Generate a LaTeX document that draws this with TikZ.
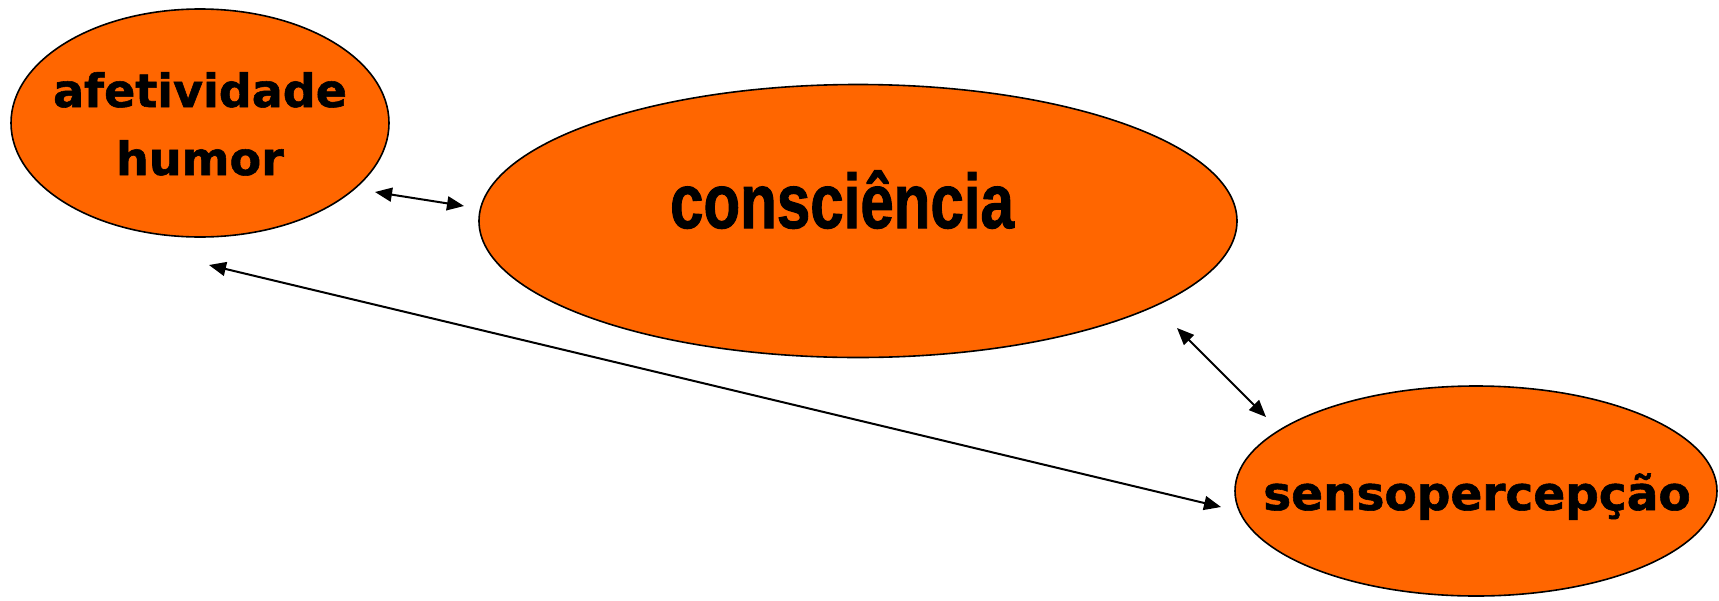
\documentclass[tikz,border=0pt]{standalone}
\usepackage{fontspec}
\usetikzlibrary{shapes.geometric,arrows.meta}
\newfontfamily\verdfont{DejaVu Sans}[BoldFeatures={FakeBold=1.2}]
\newfontfamily\arialfont{Liberation Sans}[BoldFeatures={FakeBold=1.5}]
\definecolor{orng}{HTML}{FF6600}
\begin{document}
\begin{tikzpicture}[x=1pt,y=-1pt,
  blob/.style={ellipse,draw=black,fill=orng,line width=1.6pt,inner sep=0pt},
  lbl/.style={anchor=base,inner sep=0pt,text=black},
  link/.style={line width=2pt,{Triangle[length=17pt,width=14pt]}-{Triangle[length=17pt,width=14pt]}}]
\useasboundingbox (0,0) rectangle (1719,600);
\node[blob,minimum width=378pt,minimum height=228pt] (afe) at (200,123) {};
\node[blob,minimum width=758pt,minimum height=273pt] (con) at (858,221) {};
\node[blob,minimum width=482pt,minimum height=210pt] (sen) at (1476,491) {};
\node[lbl,align=center,font=\verdfont\bfseries\fontsize{46}{68}\selectfont] (afet) at (200,175) {afetividade\\humor};
\node[lbl,font=\arialfont\bfseries\fontsize{77}{80}\selectfont] (cont) at (842,228) {\scalebox{0.78}[1]{consciência}};
\node[lbl,font=\verdfont\bfseries\fontsize{47}{50}\selectfont] (sent) at (1477,510) {sensopercepção};
\coordinate (a1) at (375,192);
\coordinate (c1) at (464,206);
\coordinate (c2) at (1177,328);
\coordinate (s2) at (1266,417);
\coordinate (a3) at (209,265);
\coordinate (s3) at (1221,507);
\draw[link] (a1) -- (c1);
\draw[link] (c2) -- (s2);
\draw[link] (a3) -- (s3);
\end{tikzpicture}
\end{document}
